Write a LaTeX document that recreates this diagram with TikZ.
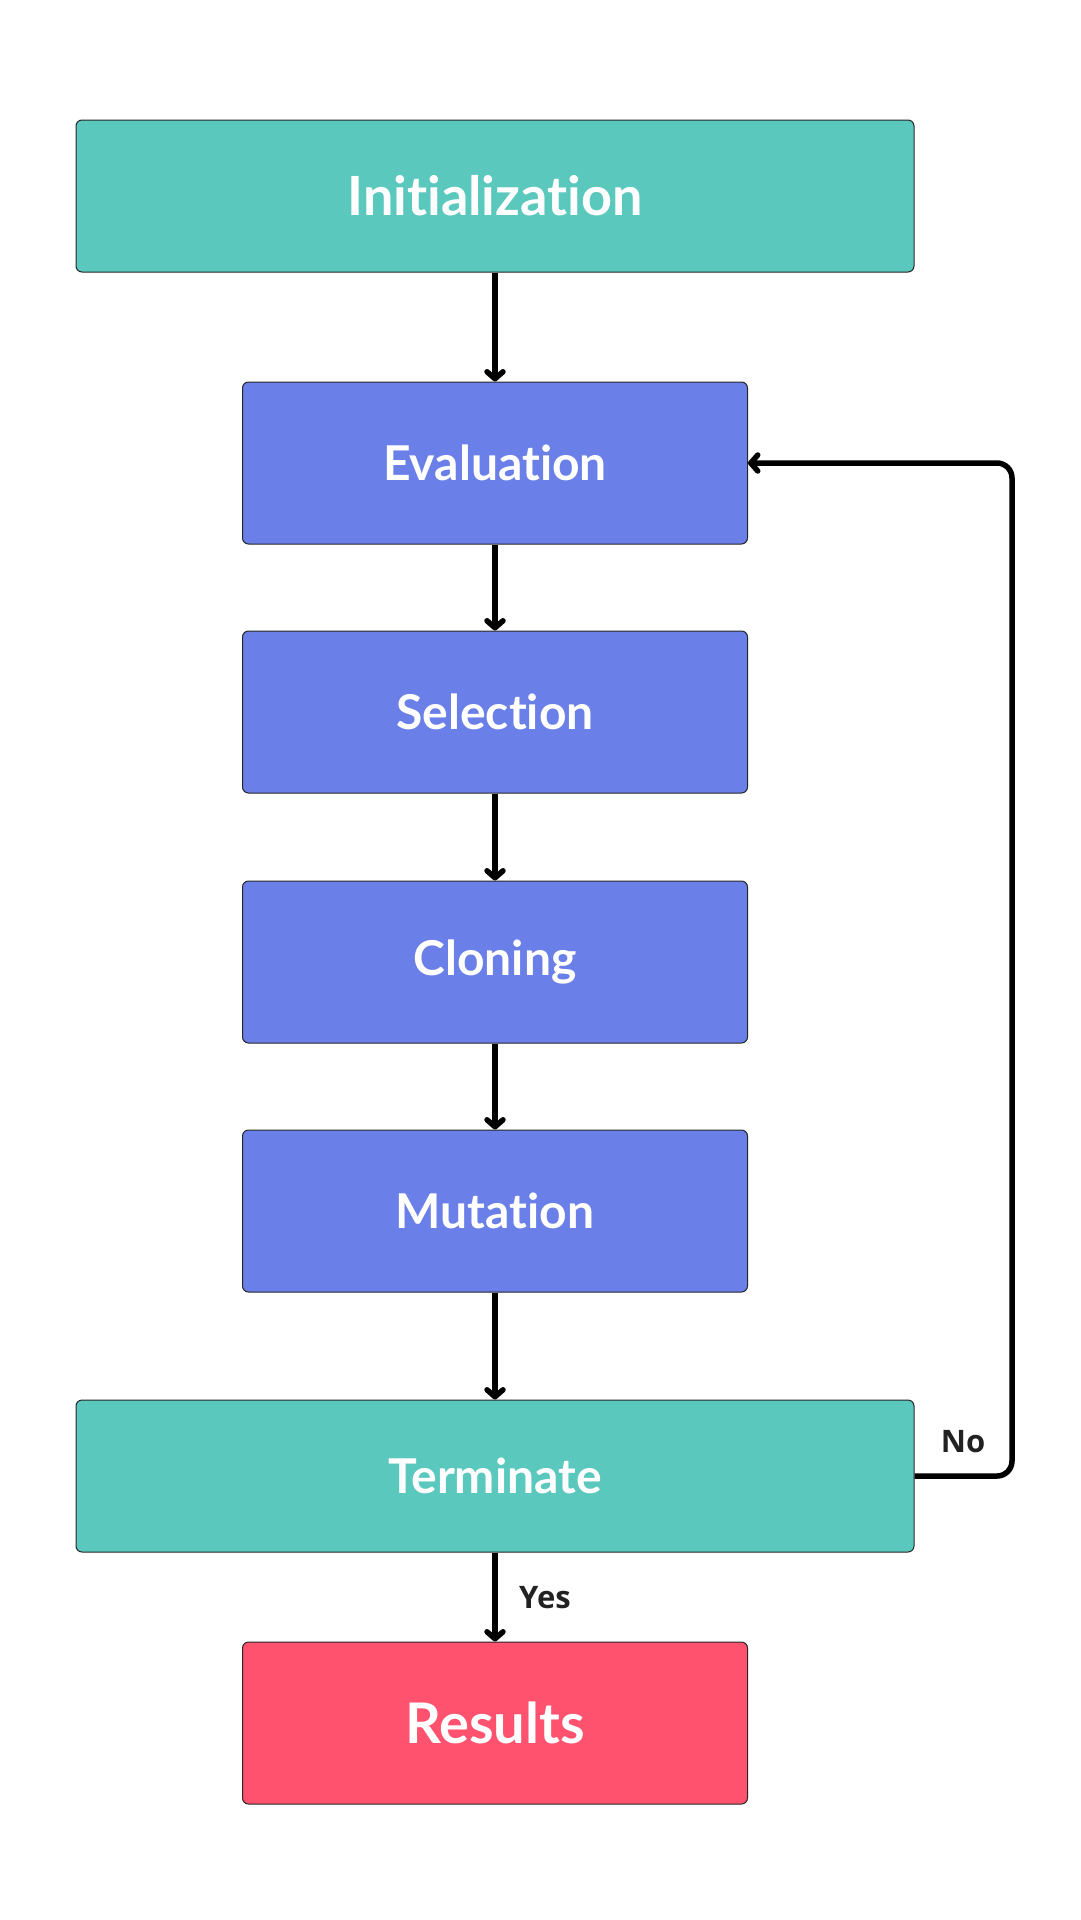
\documentclass[tikz,border=0pt]{standalone}
\usepackage{fontspec}
\setmainfont{Lato}[RawFeature={-liga;-dlig;-clig}]
\newfontfamily\lblfont{Open Sans}
\usetikzlibrary{arrows.meta}
\definecolor{tealbox}{RGB}{91,200,190}
\definecolor{bluebox}{RGB}{106,128,232}
\definecolor{redbox}{RGB}{255,82,110}
\definecolor{lbl}{RGB}{34,34,34}
\tikzset{
  box/.style={draw=black!85, line width=1pt, rounded corners=6pt, text=white,
    font=\bfseries\fontsize{48}{56}\selectfont, inner sep=0pt, anchor=center},
  widebox/.style={box, fill=tealbox, minimum width=838pt, minimum height=152pt},
  midbox/.style={box, fill=bluebox, minimum width=505pt, minimum height=162pt},
  conn/.style={draw=black, line width=5.5pt, -{Straight Barb[length=7pt,width=16pt,line cap=round,line join=round]}},
  lbltext/.style={text=lbl, font=\lblfont\bfseries\fontsize{31}{36}\selectfont, inner sep=0pt}
}
\begin{document}
\begin{tikzpicture}[x=1pt,y=-1pt]
\useasboundingbox[fill=white] (0,0) rectangle (1080,1920);
\node[widebox, font=\bfseries\fontsize{54}{62}\selectfont] (init) at (495,196) {Initialization};
\node[midbox] (eval) at (495,463) {Evaluation};
\node[midbox] (sel) at (495,712) {Selection};
\node[midbox] (clon) at (495,962) {Cloning};
\node[midbox] (mut) at (495,1211) {Mutation};
\node[widebox] (term) at (495,1476) {Terminate};
\node[midbox, fill=redbox, font=\bfseries\fontsize{56}{64}\selectfont] (res) at (495,1723) {Results};
\coordinate (cA) at (1012,1476);
\coordinate (cB) at (1012,463);
\draw[conn] (init) -- (eval);
\draw[conn] (eval) -- (sel);
\draw[conn] (sel) -- (clon);
\draw[conn] (clon) -- (mut);
\draw[conn] (mut) -- (term);
\draw[conn] (term) -- (res);
\draw[conn, rounded corners=15pt] (term.east) -- (cA) -- (cB) -- (eval.east);
\node[lbltext] (no) at (963,1442) {No};
\node[lbltext] (yes) at (545,1598) {Yes};
\end{tikzpicture}
\end{document}
